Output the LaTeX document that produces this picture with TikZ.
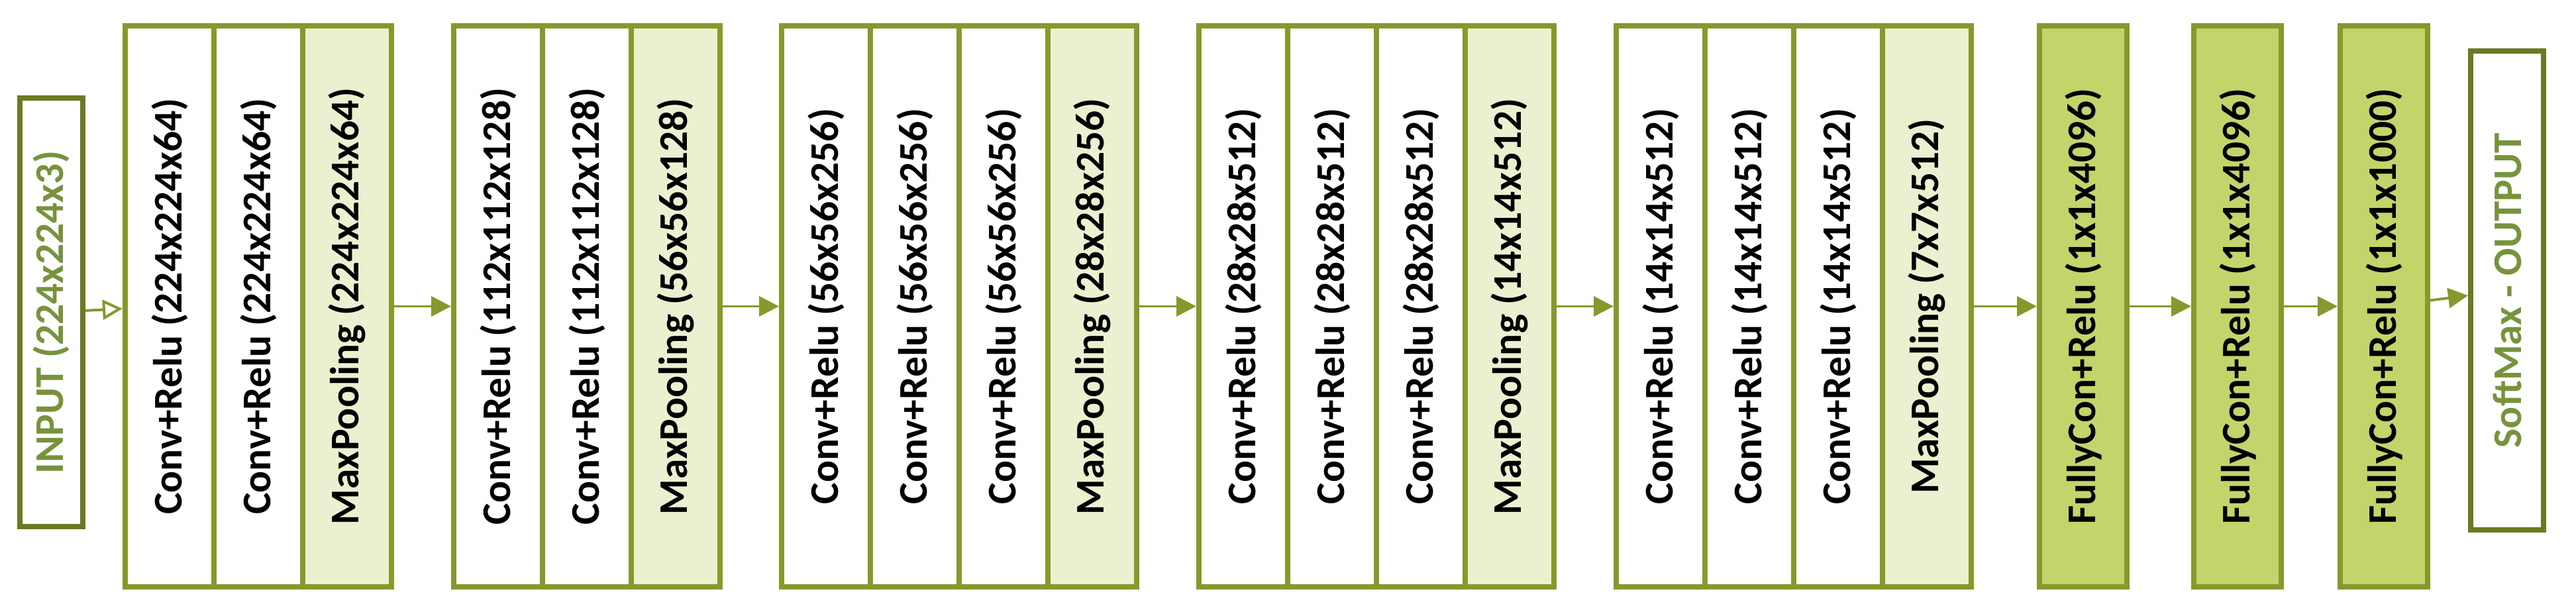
\documentclass[tikz,border=0pt]{standalone}
\usepackage{fontspec}
\setmainfont{Carlito}
\usetikzlibrary{arrows.meta}
\definecolor{olive}{HTML}{86992C}
\definecolor{darkolive}{HTML}{6B7A22}
\definecolor{poolfill}{HTML}{EBF1D0}
\definecolor{fcfill}{HTML}{C2D56B}
\definecolor{iotext}{HTML}{77933C}
\tikzset{
  layer/.style={draw=olive, line width=0.08cm, rotate=90, minimum width=8.46cm,
    minimum height=1.34cm, inner sep=0pt, font=\bfseries\fontsize{17.5}{19}\selectfont},
  conv/.style={layer, fill=white},
  pool/.style={layer, fill=poolfill},
  fc/.style={layer, fill=fcfill, minimum height=1.32cm},
  io/.style={draw=darkolive, line width=0.08cm, fill=white, rotate=90, inner sep=0pt,
    text=iotext, font=\bfseries\fontsize{17.5}{19}\selectfont},
  link/.style={draw=olive, line width=0.04cm, -{Triangle[length=0.3cm,width=0.3cm]}},
}
\begin{document}
\begin{tikzpicture}
\useasboundingbox (0,0) rectangle (38.89,-9.30);

\node[io, minimum width=6.47cm, minimum height=0.95cm] (input) at (0.775,-4.715) {INPUT (224x224x3)};

\node[conv] (c11) at (2.56,-4.625) {Conv+Relu (224x224x64)};
\node[conv] (c12) at (3.90,-4.625) {Conv+Relu (224x224x64)};
\node[pool] (p1) at (5.24,-4.625) {MaxPooling (224x224x64)};

\node[conv] (c21) at (7.52,-4.625) {Conv+Relu (112x112x128)};
\node[conv] (c22) at (8.86,-4.625) {Conv+Relu (112x112x128)};
\node[pool] (p2) at (10.20,-4.625) {MaxPooling (56x56x128)};

\node[conv] (c31) at (12.47,-4.625) {Conv+Relu (56x56x256)};
\node[conv] (c32) at (13.81,-4.625) {Conv+Relu (56x56x256)};
\node[conv] (c33) at (15.15,-4.625) {Conv+Relu (56x56x256)};
\node[pool] (p3) at (16.49,-4.625) {MaxPooling (28x28x256)};

\node[conv] (c41) at (18.77,-4.625) {Conv+Relu (28x28x512)};
\node[conv] (c42) at (20.11,-4.625) {Conv+Relu (28x28x512)};
\node[conv] (c43) at (21.45,-4.625) {Conv+Relu (28x28x512)};
\node[pool] (p4) at (22.79,-4.625) {MaxPooling (14x14x512)};

\node[conv] (c51) at (25.07,-4.625) {Conv+Relu (14x14x512)};
\node[conv] (c52) at (26.41,-4.625) {Conv+Relu (14x14x512)};
\node[conv] (c53) at (27.75,-4.625) {Conv+Relu (14x14x512)};
\node[pool] (p5) at (29.09,-4.625) {MaxPooling (7x7x512)};

\node[fc] (fc1) at (31.45,-4.625) {FullyCon+Relu (1x1x4096)};
\node[fc] (fc2) at (33.78,-4.625) {FullyCon+Relu (1x1x4096)};
\node[fc] (fc3) at (35.99,-4.625) {FullyCon+Relu (1x1x1000)};

\node[io, minimum width=7.23cm, minimum height=1.10cm] (output) at (37.85,-4.385) {SoftMax - OUTPUT};

\draw[link, -{Triangle[open,length=0.3cm,width=0.3cm]}] (input) -- (c11);
\draw[link] (p1) -- (c21);
\draw[link] (p2) -- (c31);
\draw[link] (p3) -- (c41);
\draw[link] (p4) -- (c51);
\draw[link] (p5) -- (fc1);
\draw[link] (fc1) -- (fc2);
\draw[link] (fc2) -- (fc3);
\draw[link] (fc3) -- (output);

\end{tikzpicture}
\end{document}
